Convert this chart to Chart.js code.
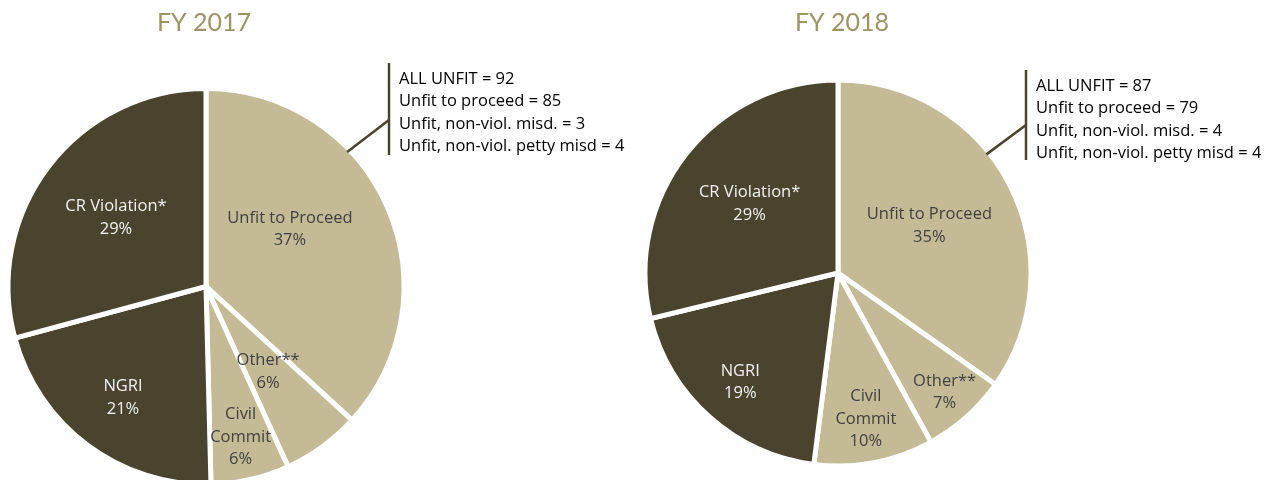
<!DOCTYPE html>
<html>
<head>
<meta charset="utf-8">
<script src="https://cdn.jsdelivr.net/npm/chart.js@4"></script>
<style>
  html, body { margin: 0; padding: 0; background: #fff; overflow: hidden; }
  body { width: 1274px; height: 480px; position: relative; }
  canvas { position: absolute; top: 0; }
  #pie2017 { left: 0; }
  #pie2018 { left: 640px; }
</style>
</head>
<body>
<canvas id="pie2017" width="640" height="500"></canvas>
<canvas id="pie2018" width="634" height="500"></canvas>
<script>
const categories = ["Unfit to Proceed", "Other**", "Civil Commit", "NGRI", "CR Violation*"];
const fy2017Values = [92, 16, 16, 53, 73];
const fy2018Values = [87, 18, 25, 48, 72];
const unfitNotes2017 = ["ALL UNFIT = 92", "Unfit to proceed = 85", "Unfit, non-viol. misd. = 3", "Unfit, non-viol. petty misd = 4"];
const unfitNotes2018 = ["ALL UNFIT = 87", "Unfit to proceed = 79", "Unfit, non-viol. misd. = 4", "Unfit, non-viol. petty misd = 4"];

const DARK = "#4a442e";
const LIGHT = "#c4ba96";
const sliceColors = [LIGHT, LIGHT, LIGHT, DARK, DARK];
const labelColors = ["#404040", "#404040", "#404040", "#f2f2f2", "#f2f2f2"];
const FONT = "'Open Sans', Lato, sans-serif";

const pieLabels = {
  id: "pieLabels",
  afterDatasetsDraw(chart) {
    const o = chart.options.plugins.pieLabels;
    const ctx = chart.ctx;
    const meta = chart.getDatasetMeta(0);
    const values = chart.data.datasets[0].data;
    const total = values.reduce((a, b) => a + b, 0);
    ctx.save();
    ctx.textAlign = "center";
    ctx.textBaseline = "middle";
    ctx.font = "16.5px " + FONT;
    meta.data.forEach((arc, i) => {
      const p = arc.getProps(["x", "y", "startAngle", "endAngle", "outerRadius"], true);
      const a = p.startAngle + (p.endAngle - p.startAngle) * o.angleFrac[i];
      const r = (p.outerRadius - 2.5) * o.radiusFrac[i];
      const x = p.x + r * Math.cos(a);
      const y = p.y + r * Math.sin(a);
      const name = categories[i] === "Civil Commit" ? ["Civil", "Commit"] : [categories[i]];
      const lines = name.concat([Math.round(values[i] / total * 100) + "%"]);
      const lh = 22.5;
      ctx.fillStyle = labelColors[i];
      lines.forEach((t, k) => {
        ctx.fillText(t, x, y + (k - (lines.length - 1) / 2) * lh);
      });
    });

    // title
    const c = meta.data[0].getProps(["x", "y", "outerRadius"], true);
    ctx.fillStyle = "#9c9464";
    ctx.font = "25px Lato, sans-serif";
    ctx.fillText(o.title, c.x + o.titleDx, 23);

    // callout for unfit breakdown
    const u = meta.data[0].getProps(["x", "y", "startAngle", "endAngle", "outerRadius"], true);
    const la = u.startAngle + (u.endAngle - u.startAngle) * o.leaderFrac;
    const lr = u.outerRadius - 3;
    const bx = c.x + o.bracketDx;
    ctx.strokeStyle = DARK;
    ctx.lineWidth = 2.5;
    ctx.beginPath();
    ctx.moveTo(u.x + lr * Math.cos(la), u.y + lr * Math.sin(la));
    ctx.lineTo(bx, o.leaderY);
    ctx.stroke();
    ctx.beginPath();
    ctx.moveTo(bx, o.bracketTop);
    ctx.lineTo(bx, o.bracketBottom);
    ctx.stroke();
    ctx.fillStyle = "#000";
    ctx.font = "16.5px " + FONT;
    ctx.textAlign = "left";
    o.notes.forEach((t, k) => {
      ctx.fillText(t, bx + 10, o.bracketTop + 16 + k * 22.4);
    });
    ctx.restore();
  }
};

function makePie(id, values, padding, extra) {
  return new Chart(document.getElementById(id), {
    type: "pie",
    data: {
      labels: categories,
      datasets: [{
        data: values,
        backgroundColor: sliceColors,
        borderColor: "#ffffff",
        borderWidth: 5
      }]
    },
    options: {
      responsive: false,
      animation: false,
      devicePixelRatio: 1,
      layout: { padding },
      plugins: {
        legend: { display: false },
        tooltip: { enabled: false },
        title: { display: false },
        pieLabels: extra
      }
    },
    plugins: [pieLabels]
  });
}

makePie("pie2017", fy2017Values,
  { left: 5, right: 233, top: 86, bottom: 13 },
  {
    title: "FY 2017", titleDx: -2, notes: unfitNotes2017,
    angleFrac: [0.42, 0.5, 0.5, 0.5, 0.5],
    radiusFrac: [0.52, 0.54, 0.79, 0.71, 0.58],
    leaderFrac: 0.35, bracketDx: 183, bracketTop: 63, bracketBottom: 155, leaderY: 120
  });

makePie("pie2018", fy2018Values,
  { left: 2.5, right: 240.5, top: 77.5, bottom: 31.5 },
  {
    title: "FY 2018", titleDx: 4, notes: unfitNotes2018,
    angleFrac: [0.5, 0.5, 0.5, 0.5, 0.5],
    radiusFrac: [0.54, 0.84, 0.78, 0.77, 0.59],
    leaderFrac: 0.41, bracketDx: 188, bracketTop: 70, bracketBottom: 160, leaderY: 125
  });
</script>
</body>
</html>
